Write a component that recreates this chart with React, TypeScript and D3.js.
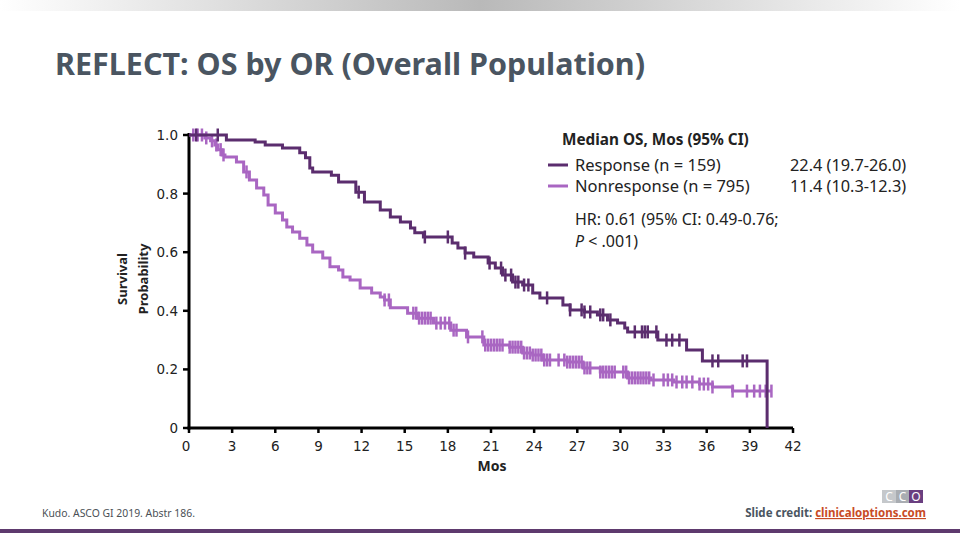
import React from 'react';
import * as d3 from 'd3';

// Kaplan-Meier step data (months, survival probability)
const respTimes = [0, 2.6, 4.6, 5.3, 6.5, 7.7, 8.1, 8.4, 8.6, 9.9, 10.4, 11.6, 12.2, 13.3, 14.0, 14.7, 15.4, 15.7, 16.3, 18.3, 18.7, 19.2, 19.8, 20.8, 21.3, 21.8, 22.5, 23.2, 23.9, 24.4, 26.0, 26.5, 27.5, 28.4, 29.1, 29.8, 30.3, 30.5, 32.6, 34.6, 35.7, 40.2];
const respSurv = [1.0, 0.983, 0.976, 0.966, 0.956, 0.939, 0.922, 0.887, 0.874, 0.863, 0.84, 0.805, 0.771, 0.744, 0.72, 0.703, 0.683, 0.666, 0.652, 0.631, 0.614, 0.597, 0.584, 0.563, 0.546, 0.522, 0.498, 0.488, 0.461, 0.444, 0.42, 0.403, 0.396, 0.386, 0.369, 0.358, 0.341, 0.328, 0.3, 0.266, 0.229, 0];
const respCensor = [0.5, 2.0, 11.8, 16.4, 18.0, 19.2, 20.9, 21.7, 22.0, 22.4, 22.7, 22.9, 23.3, 23.6, 24.9, 26.5, 27.3, 27.5, 27.9, 28.6, 28.8, 29.3, 31.0, 31.5, 31.7, 31.9, 32.5, 33.2, 33.6, 34.1, 36.4, 36.8, 38.5, 38.8];

const nonTimes = [0, 1.1, 1.5, 1.8, 2.0, 2.3, 2.5, 3.3, 3.8, 4.2, 4.7, 5.2, 5.5, 6.0, 6.5, 6.8, 7.2, 7.7, 8.2, 8.6, 9.3, 9.8, 10.4, 10.7, 11.2, 11.9, 12.7, 13.3, 13.6, 14.0, 15.2, 15.9, 17.0, 18.2, 19.3, 20.5, 22.3, 23.2, 23.9, 24.6, 26.3, 27.4, 28.6, 30.5, 32.1, 33.7, 35.5, 36.4, 37.8, 40.5];
const nonSurv = [1.0, 0.99, 0.98, 0.966, 0.95, 0.932, 0.925, 0.908, 0.874, 0.846, 0.819, 0.795, 0.761, 0.734, 0.71, 0.686, 0.669, 0.648, 0.625, 0.601, 0.58, 0.55, 0.539, 0.515, 0.505, 0.478, 0.461, 0.447, 0.437, 0.41, 0.392, 0.375, 0.358, 0.334, 0.311, 0.283, 0.276, 0.256, 0.249, 0.232, 0.225, 0.205, 0.191, 0.171, 0.164, 0.157, 0.15, 0.14, 0.126, 0.126];
const nonCensor = [0.3, 0.6, 0.9, 1.2, 1.6, 1.9, 2.2, 2.4, 4.0, 13.6, 13.9, 15.6, 15.8, 16.0, 16.2, 16.4, 16.6, 16.8, 17.2, 17.5, 17.8, 18.1, 18.4, 18.6, 19.4, 20.4, 20.6, 20.8, 21.0, 21.2, 21.4, 21.6, 21.8, 22.3, 22.5, 22.7, 22.9, 23.1, 23.3, 23.5, 23.7, 23.9, 24.1, 24.3, 24.5, 24.7, 24.9, 25.1, 25.7, 26.1, 26.3, 26.5, 26.7, 26.9, 27.1, 27.3, 27.5, 27.7, 27.9, 28.6, 28.8, 29.0, 29.2, 29.4, 29.6, 30.2, 30.4, 30.6, 30.8, 31.0, 31.2, 31.4, 31.6, 31.8, 32.0, 32.3, 33.0, 33.3, 33.6, 33.9, 34.3, 34.6, 35.0, 35.5, 35.8, 36.1, 36.4, 37.8, 38.8, 39.3, 39.7, 40.1, 40.5];

const xTicks = d3.range(0, 43, 3);
const yTicks = [0, 0.2, 0.4, 0.6, 0.8, 1.0];
const yTickLabels = ['0', '0.2', '0.4', '0.6', '0.8', '1.0'];

const legendRows = [
  { label: 'Response (n = 159)', median: '22.4 (19.7-26.0)', color: '#5b2d6e' },
  { label: 'Nonresponse (n = 795)', median: '11.4 (10.3-12.3)', color: '#a966c2' },
];

const W = 960;
const H = 540;

const x = d3.scaleLinear().domain([0, 42]).range([189, 793]);
const y = d3.scaleLinear().domain([0, 1]).range([428, 135]);

const stepLine = d3.line<[number, number]>()
  .x(d => x(d[0]))
  .y(d => y(d[1]))
  .curve(d3.curveStepAfter);

function survAt(times: number[], surv: number[], t: number) {
  let s = surv[0];
  for (let i = 0; i < times.length; i++) {
    if (times[i] <= t) s = surv[i];
  }
  return s;
}

const Curve: React.FC<{ times: number[]; surv: number[]; censor: number[]; color: string }> = ({ times, surv, censor, color }) => {
  const pts = times.map((t, i) => [t, surv[i]] as [number, number]);
  return (
    <g>
      <path d={stepLine(pts) || ''} fill="none" stroke={color} strokeWidth={3} />
      {censor.map((t, i) => {
        const cx = x(t);
        const cy = y(survAt(times, surv, t));
        return <line key={i} x1={cx} x2={cx} y1={cy - 6.5} y2={cy + 6.5} stroke={color} strokeWidth={2.5} />;
      })}
    </g>
  );
};

export default function App() {
  const sans = '"Noto Sans", "Open Sans", sans-serif';
  const tickFont = '"DejaVu Sans", Verdana, sans-serif';
  return (
    <svg width={W} height={H} style={{ position: 'absolute', left: 0, top: 0, background: '#fff' }}>
      <defs>
        <linearGradient id="topbar" x1="0" x2="1" y1="0" y2="0">
          <stop offset="0%" stopColor="#ffffff" />
          <stop offset="50%" stopColor="#b9b9b9" />
          <stop offset="100%" stopColor="#ffffff" />
        </linearGradient>
      </defs>
      <rect x={0} y={0} width={W} height={11} fill="url(#topbar)" />

      <text x={55} y={75} fontFamily={sans} fontWeight="bold" fontSize={30} fill="#4a5561"
        textLength={590} lengthAdjust="spacingAndGlyphs">REFLECT: OS by OR (Overall Population)</text>

      {/* y axis */}
      <line x1={x(0)} x2={x(0)} y1={y(1) - 2} y2={y(0) + 1.5} stroke="#000" strokeWidth={3} />
      {yTicks.map((v, i) => (
        <g key={v}>
          <line x1={x(0) - 6} x2={x(0)} y1={y(v)} y2={y(v)} stroke="#000" strokeWidth={2.5} />
          <text x={178} y={y(v) + 5} textAnchor="end" fontFamily={tickFont} fontSize={13.5} fill="#222">{yTickLabels[i]}</text>
        </g>
      ))}
      <g transform="translate(0,279)">
        <text transform="translate(127,0) rotate(-90)" textAnchor="middle" fontFamily={sans} fontWeight="bold" fontSize={13} fill="#222">Survival</text>
        <text transform="translate(148,0) rotate(-90)" textAnchor="middle" fontFamily={sans} fontWeight="bold" fontSize={13} fill="#222">Probability</text>
      </g>

      {/* x axis */}
      <line x1={x(0) - 1.5} x2={x(42)} y1={y(0)} y2={y(0)} stroke="#000" strokeWidth={3} />
      {xTicks.map(v => (
        <g key={v}>
          <line x1={x(v)} x2={x(v)} y1={y(0)} y2={y(0) + 5} stroke="#000" strokeWidth={2.5} />
          <text x={x(v) - (v === 0 ? 3 : 0)} y={451} textAnchor="middle" fontFamily={tickFont} fontSize={13.5} fill="#222">{v}</text>
        </g>
      ))}
      <text x={492} y={471} textAnchor="middle" fontFamily={sans} fontWeight="bold" fontSize={14} fill="#222">Mos</text>

      <Curve times={nonTimes} surv={nonSurv} censor={nonCensor} color={legendRows[1].color} />
      <Curve times={respTimes} surv={respSurv} censor={respCensor} color={legendRows[0].color} />

      {/* legend */}
      <text x={562} y={145} fontFamily={sans} fontWeight="bold" fontSize={15.3} fill="#222">Median OS, Mos (95% CI)</text>
      {legendRows.map((r, i) => (
        <g key={r.label}>
          <line x1={548} x2={568} y1={165 + i * 21} y2={165 + i * 21} stroke={r.color} strokeWidth={3} />
          <text x={575} y={171 + i * 21} fontFamily={sans} fontSize={16.5} fill="#222">{r.label}</text>
          <text x={790} y={171 + i * 21} fontFamily={sans} fontSize={16.3} fill="#222">{r.median}</text>
        </g>
      ))}
      <text x={575} y={225} fontFamily={sans} fontSize={16} fill="#222">HR: 0.61 (95% CI: 0.49-0.76;</text>
      <text x={575} y={247} fontFamily={sans} fontSize={16} fill="#222"><tspan fontStyle="italic">P</tspan> &lt; .001)</text>

      {/* footer */}
      <text x={42} y={517} fontFamily={sans} fontSize={10.4} fill="#4a4f55">Kudo. ASCO GI 2019. Abstr 186.</text>
      <g>
        <rect x={882} y={490} width={14} height={13} fill="#c5c8cb" />
        <rect x={896} y={490} width={13} height={13} fill="#a9adb2" />
        <rect x={909} y={490} width={14} height={13} fill="#6a3f80" />
        <text x={889} y={501} textAnchor="middle" fontFamily={sans} fontSize={12} fill="#fff">C</text>
        <text x={902.5} y={501} textAnchor="middle" fontFamily={sans} fontSize={12} fill="#fff">C</text>
        <text x={916} y={501} textAnchor="middle" fontFamily={sans} fontSize={12} fill="#fff">O</text>
      </g>
      <text x={926} y={517} textAnchor="end" fontFamily={sans} fontWeight="bold" fontSize={11.5} fill="#4a5561">
        Slide credit: <tspan fill="#c84b25" textDecoration="underline">clinicaloptions.com</tspan>
      </text>
      <rect x={0} y={529} width={W} height={4} fill="#5e3a6e" />
    </svg>
  );
}
